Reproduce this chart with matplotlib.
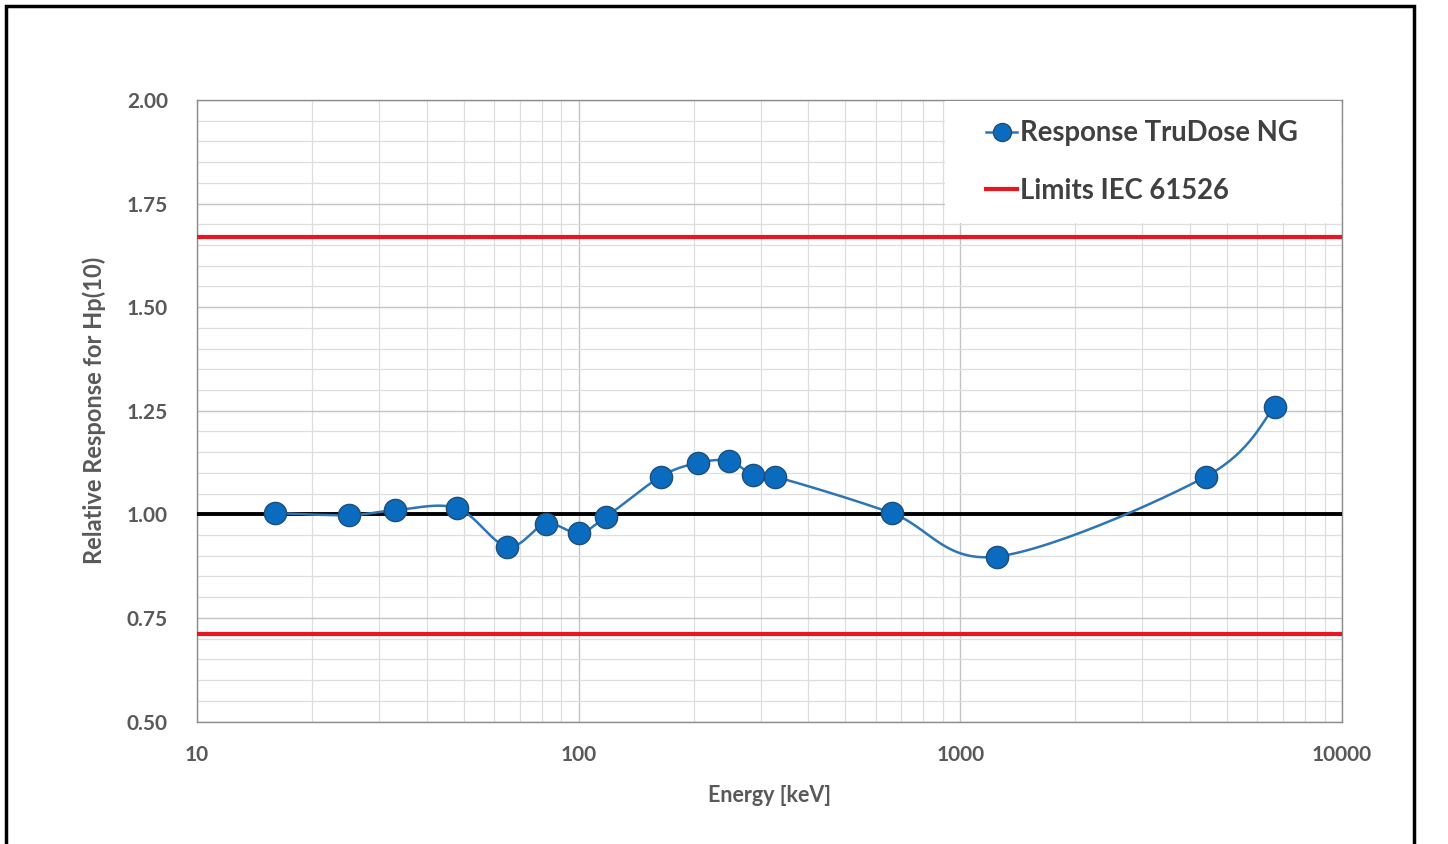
import numpy as np
import matplotlib
matplotlib.use("Agg")
import matplotlib.pyplot as plt
from matplotlib.lines import Line2D
from matplotlib.patches import Rectangle
from matplotlib.ticker import FixedLocator, NullFormatter

# ---- data ----
energy_keV = [16, 25, 33, 48, 65, 82, 100, 118, 164, 205, 248, 286, 327, 661, 1245, 4395, 6670]
response = [1.003, 0.998, 1.010, 1.015, 0.922, 0.977, 0.955, 0.994, 1.091, 1.124, 1.129,
            1.095, 1.091, 1.003, 0.898, 1.091, 1.260]
limit_upper = 1.67
limit_lower = 0.71
reference = 1.00
x_ticks = [10, 100, 1000, 10000]
x_tick_labels = ["10", "100", "1000", "10000"]
y_ticks = [0.50, 0.75, 1.00, 1.25, 1.50, 1.75, 2.00]
series_label = "Response TruDose NG"
limits_label = "Limits IEC 61526"

FONT = ["Lato", "DejaVu Sans"]
plt.rcParams["font.family"] = FONT

W, H = 1448, 844
fig = plt.figure(figsize=(W / 100, H / 100), dpi=100)
ax = fig.add_axes([197 / W, 1 - 721.5 / H, (1342 - 197) / W, (721.5 - 100) / H])

ax.set_xscale("log")
ax.set_xlim(10, 10000)
ax.set_ylim(0.5, 2.0)

# grid
minor_x = [m * 10 ** d for d in range(1, 4) for m in range(2, 10)]
ax.xaxis.set_major_locator(FixedLocator(x_ticks))
ax.xaxis.set_minor_locator(FixedLocator(minor_x))
ax.xaxis.set_minor_formatter(NullFormatter())
ax.set_xticklabels(x_tick_labels)
ax.yaxis.set_major_locator(FixedLocator(y_ticks))
ax.yaxis.set_minor_locator(FixedLocator(np.arange(0.5, 2.0001, 0.05)))
ax.set_yticklabels([f"{v:.2f}" for v in y_ticks])
ax.grid(which="major", color="#c4c4c4", linewidth=1.0)
ax.grid(which="minor", color="#dedede", linewidth=0.9)
ax.set_axisbelow(True)
ax.tick_params(which="both", length=0)
ax.tick_params(axis="y", pad=21, labelsize=15, labelcolor="#595959")
ax.tick_params(axis="x", pad=17, labelsize=15, labelcolor="#595959")
for lab in ax.get_xticklabels() + ax.get_yticklabels():
    lab.set_fontweight("bold")
for s in ax.spines.values():
    s.set_color("#8c8c8c")
    s.set_linewidth(1.0)

# reference lines
ax.axhline(limit_upper, color="#E8161E", linewidth=3.0, zorder=3)
ax.axhline(limit_lower, color="#E8161E", linewidth=3.0, zorder=3)
ax.axhline(reference, color="#000000", linewidth=2.8, zorder=3)

# smooth curve (Catmull-Rom in display space, like Excel's smoothed line)
fig.canvas.draw()
pts = ax.transData.transform(np.column_stack([energy_keV, response]))
curve = []
n = len(pts)
for i in range(n - 1):
    p0 = pts[i - 1] if i > 0 else pts[i]
    p1 = pts[i]
    p2 = pts[i + 1]
    p3 = pts[i + 2] if i + 2 < n else pts[i + 1]
    c1 = p1 + (p2 - p0) / 6.0
    c2 = p2 - (p3 - p1) / 6.0
    t = np.linspace(0, 1, 30)[:, None]
    seg = ((1 - t) ** 3) * p1 + 3 * ((1 - t) ** 2) * t * c1 + 3 * (1 - t) * t ** 2 * c2 + t ** 3 * p2
    curve.append(seg if i == 0 else seg[1:])
curve = np.vstack(curve)
curve_data = ax.transData.inverted().transform(curve)
ax.plot(curve_data[:, 0], curve_data[:, 1], color="#2E75B6", linewidth=1.8, zorder=4)
ax.plot(energy_keV, response, linestyle="none", marker="o", markersize=16,
        markerfacecolor="#0B6BBF", markeredgecolor="#1F4E79", markeredgewidth=1.0, zorder=5)

# axis labels
ax.set_xlabel("Energy [keV]", fontsize=15.5, fontweight="bold", color="#595959", labelpad=14)
ax.set_ylabel("Relative Response for Hp(10)", fontsize=17, fontweight="bold", color="#595959", labelpad=15)

# legend background
fig.patches.append(Rectangle((945 / W, 1 - 223 / H), (1341 - 945) / W, (223 - 101) / H,
                             transform=fig.transFigure, facecolor="white", edgecolor="none", zorder=1))
handles = [Line2D([0], [0], color="#2E75B6", linewidth=1.8, marker="o", markersize=13,
                  markerfacecolor="#0B6BBF", markeredgecolor="#1F4E79"),
           Line2D([0], [0], color="#E8161E", linewidth=3.0)]
leg = fig.legend(handles, [series_label, limits_label], loc="center left",
                 bbox_to_anchor=(972 / W, 1 - 162 / H), frameon=False, borderpad=0,
                 handlelength=1.15, handletextpad=0.08, labelspacing=1.15,
                 prop={"family": FONT, "weight": "bold", "size": 19.8})
for t in leg.get_texts():
    t.set_color("#404040")
leg.set_zorder(2)

# outer frame
fig.patches.append(Rectangle((6 / W, -0.05), (1414 - 6) / W, 1.05 - 5.5 / H,
                             transform=fig.transFigure, facecolor="none", edgecolor="black",
                             linewidth=2.5, zorder=3, clip_on=False))

fig.savefig("out.png", dpi=100)
